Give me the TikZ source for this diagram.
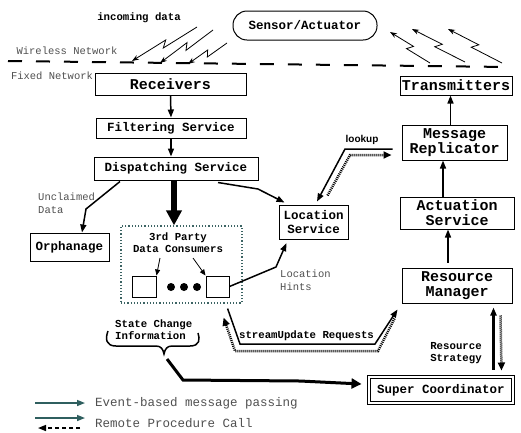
\documentclass[tikz,border=0pt]{standalone}
\usepackage{fontspec}
\setmonofont{Liberation Mono}
\newfontfamily\lookupfont{Liberation Sans}
\usetikzlibrary{arrows.meta,calc}
\definecolor{labelgray}{RGB}{80,80,80}
\definecolor{legendteal}{RGB}{47,95,95}
\definecolor{dotteal}{RGB}{60,100,100}

\begin{document}
\begin{tikzpicture}[x=1pt, y=-1pt]
  \tikzstyle{box}=[draw, line width=1pt, inner sep=0pt, align=center]
  \tikzstyle{bigbox}=[box, font=\ttfamily\bfseries\fontsize{15}{15}\selectfont]
  \tikzstyle{midbox}=[box, font=\ttfamily\bfseries\fontsize{12.5}{14}\selectfont]
  \tikzstyle{smalltext}=[font=\ttfamily\bfseries\fontsize{10.7}{12}\selectfont, inner sep=0pt]
  \tikzstyle{graytext}=[font=\ttfamily\fontsize{10.5}{13}\selectfont, text=labelgray, inner sep=0pt, align=left]
  \tikzstyle{evt}=[line width=1.5pt, -{Triangle[length=8pt,width=6pt]}]
  \tikzstyle{rpc}=[line width=2.5pt, dash pattern=on 1pt off 1pt, -{Triangle[length=8pt,width=7pt]}]
  \tikzstyle{zap}=[line width=0.8pt, -{Stealth[length=7pt,width=5pt]}]
  \useasboundingbox (0,0) rectangle (521,432);

  % wireless part
  \node[midbox, rounded corners=14pt, minimum width=144pt, minimum height=29pt] (sensor) at (305,25.5) {Sensor/Actuator};
  \draw[line width=2pt, dash pattern=on 14pt off 14pt] (8,61) -- (508,67);
  \node[graytext] (wlabel) at (67,51) {Wireless Network};
  \node[graytext] (flabel) at (52,76) {Fixed Network};
  \node[smalltext] (incoming) at (139,18) {incoming data};
  \foreach \n/\sx/\sy/\ex/\ey in {in1/197/27/132/61, in2/213/30/160/63, in3/227/43/188/64,
                                  out1/430/63/390/32, out2/465/62/412/29, out3/502/63/448/29} {
    \coordinate (\n-s) at (\sx,\sy);
    \coordinate (\n-e) at (\ex,\ey);
    \draw[zap] (\n-s) -- ($(\n-s)!0.54!(\n-e)!3pt!90:(\n-e)$)
      -- ($(\n-s)!0.46!(\n-e)!3pt!-90:(\n-e)$) -- (\n-e);
  }

  % fixed network services
  \node[bigbox, minimum width=151pt, minimum height=22pt] (recv) at (170.5,84) {Receivers};
  \node[midbox, minimum width=150pt, minimum height=20pt] (filt) at (171,128) {Filtering Service};
  \node[midbox, minimum width=164pt, minimum height=23pt] (disp) at (176,168.5) {Dispatching Service};
  \node[bigbox, minimum width=112pt, minimum height=19pt] (trans) at (456,85.5) {Transmitters};
  \node[bigbox, minimum width=105pt, minimum height=35pt] (repl) at (454.5,142.5) {Message\\Replicator};
  \node[bigbox, minimum width=114pt, minimum height=32pt] (act) at (457,213) {Actuation\\Service};
  \node[bigbox, minimum width=110pt, minimum height=35pt] (rman) at (457,285.5) {Resource\\Manager};
  \node[midbox, minimum width=69pt, minimum height=34pt] (loc) at (313.5,222) {Location\\Service};
  \node[midbox, minimum width=79pt, minimum height=28pt] (orph) at (69.5,247) {Orphanage};
  \node[midbox, double, double distance=1.5pt, minimum width=144pt, minimum height=26pt] (super) at (441,390) {Super Coordinator};

  % 3rd party consumers
  \node[draw=dotteal, line width=1.2pt, dotted, minimum width=121pt, minimum height=77pt] (third) at (181.5,264.5) {};
  \node[smalltext, align=center] (thirdlabel) at (178,243) {3rd Party\\Data Consumers};
  \node[box, minimum width=24pt, minimum height=21pt] (cons1) at (144,286.5) {};
  \node[box, minimum width=23pt, minimum height=21pt] (cons2) at (217.5,286.5) {};
  \foreach \x in {171, 184, 197}
    \fill (\x,287) circle (4pt);
  \draw[line width=0.8pt, -{Triangle[length=6pt,width=5pt]}] (160,258) -- (cons1.north east);
  \draw[line width=0.8pt, -{Triangle[length=6pt,width=5pt]}] (193,258) -- (cons2.north west);

  % event-based connectors
  \draw[evt] (recv.south) -- (filt.north);
  \draw[evt] (filt.south) -- (filt.south |- disp.north);
  \draw[line width=6pt, -{Triangle[length=15pt,width=15pt]}] ([xshift=-2pt]disp.south) -- ([xshift=-2pt]disp.south |- third.north);
  \draw[evt] ($(disp.south)+(-56,1)$) -- (86,209) -- ($(orph.north)+(12.5,0)$);
  \node[graytext, anchor=west] (unclaimed) at (38,203.5) {Unclaimed\\Data};
  \draw[evt] ($(disp.south)+(42,2)$) -- (258,189) -- ($(loc.north west)+(6,-2)$);
  \draw[evt] ($(repl.west)+(-9,6.5)$) -- (345,149) -- ($(loc.north)+(3.5,-3)$);
  \draw[rpc] ($(loc.north)+(14,-9)$) -- (350,155) -- ($(repl.west)+(-10,12.5)$);
  \node[font=\lookupfont\bfseries\fontsize{10}{12}\selectfont, inner sep=0pt] (lookup) at (362,140) {lookup};
  \draw[evt] ([xshift=-4pt]repl.north) -- ([xshift=-4pt]repl.north |- trans.south);
  \draw[evt] ([xshift=-14pt]act.north) -- ([xshift=-14pt]act.north |- repl.south);
  \draw[evt, shorten <=5pt] ([xshift=-9pt]rman.north) -- ([xshift=-9pt]rman.north |- act.south);
  \draw[evt, shorten >=4pt] (cons2.east) -- (276,267) -- ($(loc.south)+(-25.5,0)$);
  \node[graytext, anchor=west] (hints) at (280,280) {Location\\Hints};

  % streamUpdate requests
  \draw[evt] ($(third.south east)+(-15,5)$) -- (240,344) -- (375,344) -- ($(rman.south west)+(-4,6)$);
  \draw[rpc] ($(rman.south west)+(-7,15)$) -- (378,351) -- (235,351) -- ($(third.south east)+(-19,14)$);
  \node[smalltext] (stream) at (306.5,336) {streamUpdate Requests};

  % resource strategy
  \draw[evt, line width=2.5pt] ($(super.north east)+(-20,-7)$) -- ($(rman.south east)+(-19,4)$);
  \draw[rpc] ($(rman.south east)+(-12,12)$) -- ($(super.north east)+(-12,-6)$);
  \node[smalltext, align=left] (strategy) at (456,353) {Resource\\Strategy};

  % state change information
  \node[smalltext, align=left, anchor=west] (state) at (115,330) {State Change\\Information};
  \coordinate (tip) at (164,354);
  \draw[line width=1.5pt] (108,331) .. controls (105,339) and (106,346) .. (116,346) -- (156,346)
    .. controls (161,346) and (163,349) .. (tip) .. controls (165,349) and (167,346) .. (172,346)
    -- (190,346) .. controls (200,346) and (200,339) .. (198,333);
  \draw[line width=3pt, -{Triangle[length=10pt,width=10pt]}] ($(tip)+(3,5)$) -- (183,380) -- (300,381) -- ($(super.west)+(-7,-6)$);

  % legend
  \coordinate (leg1-s) at (35,403);
  \coordinate (leg1-e) at (85,403);
  \coordinate (leg2-s) at (35,418);
  \coordinate (leg2-e) at (85,418);
  \coordinate (leg3-s) at (80,428);
  \coordinate (leg3-e) at (38,428);
  \draw[legendteal, line width=1.5pt, -{Triangle[length=8pt,width=6pt]}] (leg1-s) -- (leg1-e);
  \draw[legendteal, line width=1.5pt, -{Triangle[length=8pt,width=6pt]}] (leg2-s) -- (leg2-e);
  \draw[line width=1.5pt, dash pattern=on 4pt off 3pt, -{Triangle[length=8pt,width=6pt]}] (leg3-s) -- (leg3-e);
  \node[graytext, font=\ttfamily\fontsize{12.5}{14}\selectfont, anchor=west] (legevt) at (95,403) {Event-based message passing};
  \node[graytext, font=\ttfamily\fontsize{12.5}{14}\selectfont, anchor=west] (legrpc) at (95,423) {Remote Procedure Call};
\end{tikzpicture}
\end{document}
